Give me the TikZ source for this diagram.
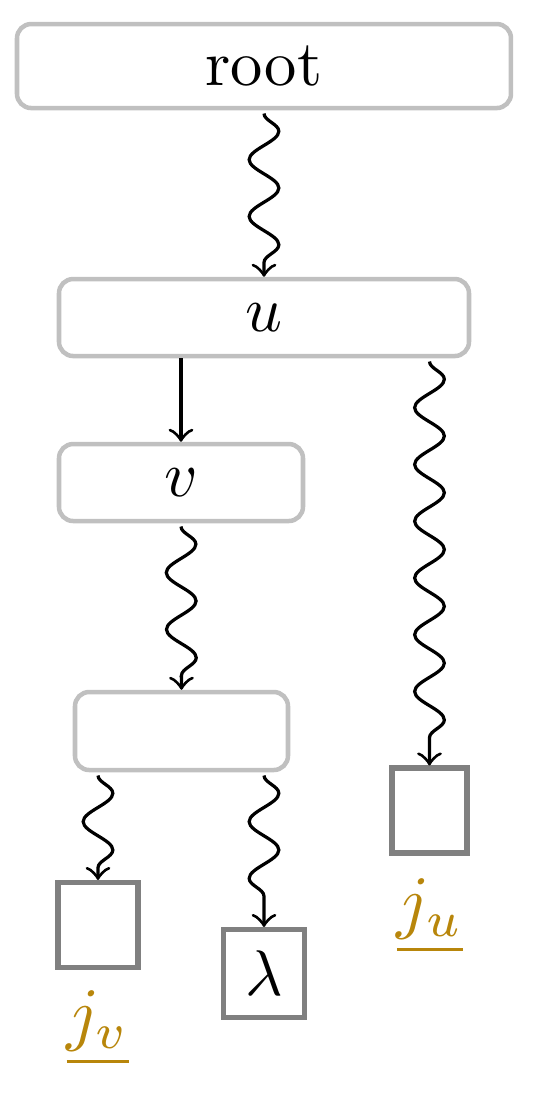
\documentclass[tikz,border=0pt]{standalone}
\usetikzlibrary{decorations.pathmorphing}
\definecolor{boxgray}{RGB}{192,192,192}
\definecolor{leafgray}{RGB}{128,128,128}
\definecolor{labelgold}{RGB}{184,134,11}
\tikzset{
  inbox/.style={draw=boxgray, line width=0.7pt, rounded corners=2.2pt, inner sep=0pt},
  leafbox/.style={draw=leafgray, line width=0.8pt, inner sep=0pt},
  wig/.style={->, line width=0.5pt, decorate,
    decoration={snake, amplitude=2.3pt, segment length=8.8pt, post length=1.5pt}},
  straight/.style={->, line width=0.5pt},
  lbl/.style={text=labelgold, inner sep=0pt, scale=1.1}
}
\begin{document}
\begin{tikzpicture}[x=0.155pt,y=-0.155pt]
\useasboundingbox (0,0) rectangle (540,1094);
\node[inbox, minimum width=494*0.155pt, minimum height=84*0.155pt] (root) at (264,66) {root};
\node[inbox, minimum width=410*0.155pt, minimum height=77*0.155pt] (u) at (264,317.5) {$u$};
\node[inbox, minimum width=244*0.155pt, minimum height=77*0.155pt] (v) at (181,482.5) {$v$};
\node[inbox, minimum width=213*0.155pt, minimum height=78*0.155pt] (w) at (181.5,731) {};
\node[leafbox, minimum width=75*0.155pt, minimum height=85*0.155pt] (ju) at (429.5,810.5) {};
\node[leafbox, minimum width=80*0.155pt, minimum height=85*0.155pt] (jv) at (98,925) {};
\node[leafbox, minimum width=81*0.155pt, minimum height=88*0.155pt] (lam) at (264,973.5) {$\lambda$};
\node[lbl] (lju) at (430,916) {$\underline{j_u}$};
\node[lbl] (ljv) at (98,1028) {$\underline{j_v}$};
\draw[wig] ([yshift=-0.5pt]root.south) -- (u.north);
\draw[straight] (u.south -| v.north) -- (v.north);
\draw[wig] ([yshift=-0.5pt]v.south) -- (w.north);
\draw[wig] ([yshift=-0.5pt]u.south -| ju.north) -- (ju.north);
\draw[wig] ([yshift=-0.5pt]w.south -| jv.north) -- (jv.north);
\draw[wig] ([yshift=-0.5pt]w.south -| lam.north) -- (lam.north);
\end{tikzpicture}
\end{document}
